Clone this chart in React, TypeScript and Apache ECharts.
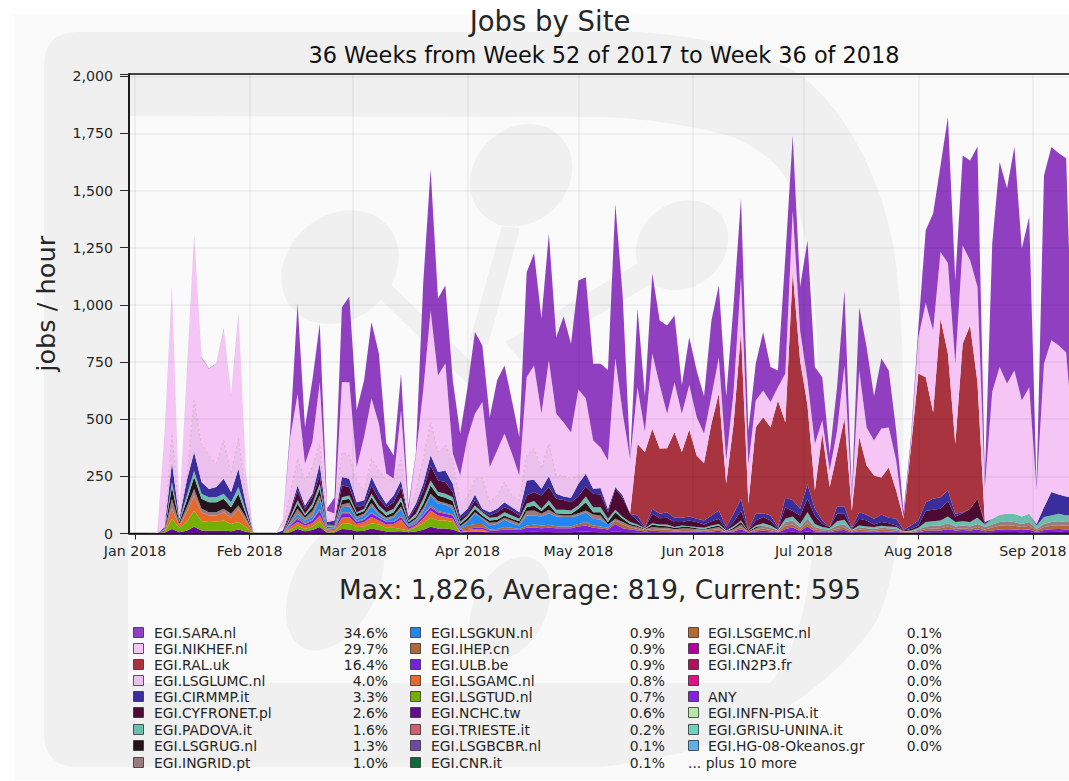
import React, { useEffect, useRef } from "react";
import * as echarts from "echarts";

// Every array below holds, per 2-day sample from 1 Jan 2018, the height (jobs/hour)
// of the upper edge of that site's band.
const saraEdge = [
  0,0,2,5,430,1075,100,690,1304,771,
  722,744,897,604,963,270,10,0,0,0,
  50,450,1006,465,670,918,110,158,990,1037,
  540,670,925,787,395,341,700,120,350,1094,
  1593,1028,1085,670,437,640,881,822,509,670,
  735,582,422,1143,1226,940,1311,859,949,830,
  1107,1121,743,743,715,1441,1034,334,984,600,
  1137,932,910,954,650,859,713,600,932,1085,
  600,1000,1466,450,744,881,728,713,1209,1741,
  1079,1282,728,684,348,640,1063,170,990,815,
  600,765,713,450,95,420,900,1326,1400,1610,
  1822,1107,1654,1632,1693,240,1269,1625,1510,1691,
  1247,1384,203,1566,1691,1663,1641,595];
const nikhefEdge = [
  0,0,2,5,425,1070,98,685,1300,768,
  720,742,895,600,960,268,10,0,0,0,
  48,420,610,305,400,660,100,87,662,662,
  290,422,590,480,262,240,538,100,340,625,
  976,691,744,350,254,420,524,575,290,363,
  437,350,254,683,735,525,757,524,486,442,
  630,590,407,376,319,766,525,325,640,445,
  787,650,524,660,524,650,510,437,600,770,
  320,620,1121,300,582,626,575,640,700,1413,
  888,670,392,495,276,450,735,150,713,464,
  407,459,464,319,70,400,858,1008,888,1231,
  1183,743,1260,1195,1079,200,620,728,656,713,
  582,640,190,743,845,822,792,400];
const ralEdge = [
  0,0,0,0,0,0,0,0,0,0,
  0,0,0,0,0,0,0,0,0,0,
  0,0,0,0,0,0,0,0,0,0,
  0,0,0,0,0,0,0,0,0,0,
  0,0,0,0,0,0,0,0,0,0,
  0,0,0,0,0,0,0,0,0,0,
  0,0,0,0,0,0,0,90,392,356,
  458,372,373,443,356,455,341,308,480,612,
  218,480,881,131,465,509,465,582,487,1143,
  757,560,188,437,203,350,503,100,422,298,
  254,245,289,188,66,376,700,684,530,940,
  787,392,830,910,660,20,0,0,0,0,
  0,0,0,0,0,0,0,0];
const lumcEdge = [
  0,0,0,0,28,437,79,247,582,393,
  342,305,407,261,415,174,6,0,0,0,
  28,174,327,232,291,393,57,72,356,342,
  232,188,327,276,239,232,320,86,188,327,
  488,356,385,320,137,159,239,244,137,166,
  225,166,145,342,371,283,393,254,254,237,
  254,264,196,199,108,0,0,0,0,0,
  0,0,0,0,0,0,0,0,0,0,
  0,0,0,0,0,0,0,0,0,0,
  0,0,0,0,0,0,0,0,0,0,
  0,0,0,0,0,0,0,0,0,0,
  0,0,0,0,0,0,0,0,0,0,
  0,0,0,0,0,0,0,0];
const cirmmpEdge = [
  0,0,0,0,26,312,64,232,356,225,
  195,203,239,181,283,130,6,0,0,0,
  13,101,210,123,174,305,50,57,247,239,
  137,145,247,181,130,166,232,74,130,218,
  342,269,276,218,79,108,171,108,93,108,
  137,115,93,232,235,196,250,174,162,156,
  218,261,196,199,108,203,166,86,79,28,
  108,86,93,69,69,74,64,57,79,101,
  28,86,152,16,86,89,79,28,156,147,
  108,215,108,57,28,118,118,25,93,82,
  64,83,69,64,16,35,57,137,152,159,
  188,86,93,108,152,50,64,82,86,86,
  74,86,42,115,181,171,162,160];
const cyfronetEdge = [
  0,0,0,0,0,0,0,0,0,0,
  0,0,0,0,0,0,0,0,0,0,
  0,93,188,108,159,254,39,42,210,203,
  115,123,210,152,115,137,203,64,115,188,
  298,232,225,181,64,89,147,98,79,93,
  115,101,79,166,181,166,203,152,147,137,
  162,206,174,171,93,196,156,86,57,23,
  86,67,69,50,50,57,50,39,54,64,
  18,50,101,13,57,72,57,20,115,98,
  79,152,79,42,28,86,86,20,64,57,
  39,50,45,35,13,20,35,98,104,108,
  142,74,89,108,152,42,0,0,0,0,
  0,0,0,0,0,0,0,0];
const padovaEdge = [
  0,0,0,0,20,225,57,166,273,174,
  159,159,174,137,203,100,3,0,0,0,
  0,72,145,86,130,218,35,35,159,166,
  93,108,174,123,93,108,159,57,86,152,
  232,181,174,159,50,79,123,93,69,72,
  93,79,64,130,142,108,145,104,104,101,
  123,162,115,115,64,104,72,50,39,23,
  45,39,39,28,35,32,28,25,35,42,
  13,32,57,10,35,45,35,16,64,74,
  42,93,42,28,23,54,60,16,35,31,
  28,34,31,28,10,13,25,50,54,57,
  74,50,54,50,69,39,64,82,86,86,
  74,86,35,72,79,86,79,80];
const rugEdge = [
  0,0,0,0,14,203,50,144,247,152,
  137,137,152,115,174,86,2,0,0,0,
  0,64,130,79,115,196,28,31,145,152,
  86,98,159,108,79,93,142,50,72,130,
  210,166,156,142,42,69,108,79,57,60,
  79,64,54,115,123,98,127,89,86,86,
  108,137,93,93,50,93,64,42,34,20,
  38,34,32,25,28,28,23,20,28,35,
  10,25,50,9,28,0,0,0,0,0,
  0,0,0,0,0,0,0,0,0,0,
  0,0,0,0,0,0,0,0,0,0,
  0,0,0,0,0,0,0,0,0,0,
  0,0,0,0,0,0,0,0];
const ingridEdge = [
  0,0,0,0,10,152,42,115,195,108,
  93,93,108,86,123,71,2,0,0,0,
  0,54,108,69,98,166,25,28,127,135,
  74,86,133,93,69,79,118,42,64,112,
  174,142,133,123,32,57,93,69,47,50,
  69,57,45,98,101,86,104,83,79,79,
  89,101,83,79,39,64,50,35,28,18,
  28,25,25,19,22,22,19,18,22,28,
  9,19,39,7,22,35,26,13,50,57,
  28,64,28,20,18,35,39,13,28,23,
  20,25,23,20,9,9,16,31,34,35,
  45,31,35,31,42,28,39,50,54,50,
  42,50,20,42,50,54,50,50];
const kunEdge = [
  0,0,0,0,0,0,0,0,0,0,
  0,0,0,0,0,0,0,0,0,0,
  0,45,86,57,72,152,20,25,115,118,
  64,79,118,83,60,69,108,39,57,98,
  166,130,127,108,28,50,86,64,35,42,
  60,45,35,79,79,74,89,74,72,72,
  79,93,64,60,39,0,0,0,0,0,
  0,0,0,0,0,0,0,0,0,0,
  0,0,0,0,0,0,0,0,0,0,
  0,0,0,0,0,0,0,0,0,0,
  0,0,0,0,0,0,0,0,0,0,
  0,0,0,0,0,0,0,0,0,0,
  0,0,0,0,0,0,0,0];
const ihepEdge = [
  0,0,0,0,0,0,0,0,0,0,
  0,0,0,0,0,0,0,0,0,0,
  0,38,72,47,60,108,18,22,93,93,
  54,64,93,72,53,54,79,32,47,83,
  123,98,91,83,20,35,42,42,18,20,
  28,25,20,35,39,35,38,32,31,31,
  42,50,35,31,25,57,39,28,20,16,
  20,18,18,13,15,15,13,12,15,19,
  6,13,28,4,15,22,15,7,34,39,
  18,45,18,13,10,22,25,9,18,15,
  13,16,15,13,6,6,10,20,22,23,
  31,20,23,20,28,18,26,34,36,34,
  28,34,13,28,34,36,34,34];
const ulbEdge = [
  0,0,0,0,0,0,0,0,0,0,
  0,0,0,0,0,0,0,0,0,0,
  0,35,64,42,57,101,16,20,89,89,
  50,60,89,69,50,50,72,28,42,79,
  115,93,86,79,16,20,25,26,13,13,
  18,18,15,25,26,23,25,23,23,23,
  31,35,25,22,18,42,23,18,13,9,
  13,10,10,9,9,9,9,7,9,12,
  4,9,19,3,9,13,9,4,20,26,
  10,31,10,7,6,13,15,4,10,9,
  7,10,9,7,3,3,6,12,13,13,
  19,13,15,13,18,10,13,18,19,18,
  15,18,7,15,19,20,18,18];
const amcEdge = [
  0,0,0,0,8,108,35,93,166,93,
  79,79,93,69,108,57,2,0,0,0,
  0,28,50,35,45,79,13,16,69,72,
  42,50,72,57,39,42,60,20,35,64,
  101,79,72,64,10,16,20,20,0,0,
  0,0,0,0,0,0,0,0,0,0,
  0,0,0,0,0,0,0,0,0,0,
  0,0,0,0,0,0,0,0,0,0,
  0,0,0,0,0,0,0,0,0,0,
  0,0,0,0,0,0,0,0,0,0,
  0,0,0,0,0,0,0,0,0,0,
  0,0,0,0,0,0,0,0,0,0,
  0,0,0,0,0,0,0,0];
const tudEdge = [
  0,0,0,0,5,64,25,50,100,54,
  50,52,57,42,50,28,1,0,0,0,
  0,16,35,20,31,54,6,10,42,45,
  28,31,45,39,25,25,20,13,28,45,
  69,57,57,50,6,10,12,10,0,0,
  0,0,0,0,0,0,0,0,0,0,
  0,0,0,0,0,0,0,0,0,0,
  0,0,0,0,0,0,0,0,0,0,
  0,0,0,0,0,0,0,0,0,0,
  0,0,0,0,0,0,0,0,0,0,
  0,0,0,0,0,0,0,0,0,0,
  0,0,0,0,0,0,0,0,0,0,
  0,0,0,0,0,0,0,0];
const nchcEdge = [
  0,0,0,0,3,20,6,12,30,13,
  12,12,13,10,18,8,1,0,0,0,
  0,6,20,10,15,28,3,4,20,18,
  10,12,22,15,9,9,10,5,9,16,
  30,22,22,18,5,7,8,7,5,5,
  6,6,5,7,8,7,7,6,6,6,
  8,9,7,6,5,10,7,5,4,3,
  5,4,4,3,4,4,3,3,4,5,
  2,4,6,1,4,5,4,2,6,8,
  4,9,4,3,2,5,6,2,4,4,
  3,4,4,3,1,1,3,4,5,5,
  6,5,5,5,6,4,6,7,7,7,
  6,7,3,6,7,8,7,7];

const sampleStart = Date.UTC(2018, 0, 1);
const sampleDays = 2;
const monthNames = ["Jan","Feb","Mar","Apr","May","Jun","Jul","Aug","Sep","Oct","Nov","Dec"];
const yTicks = [0, 250, 500, 750, 1000, 1250, 1500, 1750, 2000];

const legendRows = [
  ["EGI.SARA.nl", "34.6%", "#903fc0"], ["EGI.NIKHEF.nl", "29.7%", "#f5c6f5"], ["EGI.RAL.uk", "16.4%", "#a8343f"],
  ["EGI.LSGLUMC.nl", "4.0%", "#ecc0ec"], ["EGI.CIRMMP.it", "3.3%", "#3a2d9c"], ["EGI.CYFRONET.pl", "2.6%", "#4d0a33"],
  ["EGI.PADOVA.it", "1.6%", "#6dbdae"], ["EGI.LSGRUG.nl", "1.3%", "#241318"], ["EGI.INGRID.pt", "1.0%", "#9b7a80"],
  ["EGI.LSGKUN.nl", "0.9%", "#2288f0"], ["EGI.IHEP.cn", "0.9%", "#b0683a"], ["EGI.ULB.be", "0.9%", "#7a1fe0"],
  ["EGI.LSGAMC.nl", "0.8%", "#e86a2a"], ["EGI.LSGTUD.nl", "0.7%", "#74b000"], ["EGI.NCHC.tw", "0.6%", "#640a96"],
  ["EGI.TRIESTE.it", "0.2%", "#d06070"], ["EGI.LSGBCBR.nl", "0.1%", "#6e48a8"], ["EGI.CNR.it", "0.1%", "#0a6a3a"],
  ["EGI.LSGEMC.nl", "0.1%", "#b86a2e"], ["EGI.CNAF.it", "0.0%", "#b000a0"], ["EGI.IN2P3.fr", "0.0%", "#b01060"],
  ["", "0.0%", "#e0108a"], ["ANY", "0.0%", "#8a1ee0"], ["EGI.INFN-PISA.it", "0.0%", "#b4e8a4"],
  ["EGI.GRISU-UNINA.it", "0.0%", "#70d0c0"], ["EGI.HG-08-Okeanos.gr", "0.0%", "#60b0e8"],
];
const legendMore = "... plus 10 more";

// bottom of the stack first
const stackOrder: [string, number[], string][] = [
  ["EGI.NCHC.tw", nchcEdge, "#640a96"],
  ["EGI.LSGTUD.nl", tudEdge, "#74b000"],
  ["EGI.LSGAMC.nl", amcEdge, "#e86a2a"],
  ["EGI.ULB.be", ulbEdge, "#7a1fe0"],
  ["EGI.IHEP.cn", ihepEdge, "#b0683a"],
  ["EGI.LSGKUN.nl", kunEdge, "#2288f0"],
  ["EGI.INGRID.pt", ingridEdge, "#9b7a80"],
  ["EGI.LSGRUG.nl", rugEdge, "#241318"],
  ["EGI.PADOVA.it", padovaEdge, "#6dbdae"],
  ["EGI.CYFRONET.pl", cyfronetEdge, "#4d0a33"],
  ["EGI.CIRMMP.it", cirmmpEdge, "#3a2d9c"],
  ["EGI.LSGLUMC.nl", lumcEdge, "#ecc0ec"],
  ["EGI.RAL.uk", ralEdge, "#a8343f"],
  ["EGI.NIKHEF.nl", nikhefEdge, "#f5c6f5"],
  ["EGI.SARA.nl", saraEdge, "#903fc0"],
];

const FONT = "DejaVu Sans";
const TXT = "#262626";

const outerLogo = "M78 32 L640 32 C720 38 770 55 803 77 C850 115 880 180 893 243 C900 290 903 340 903 390 C905 470 900 540 890 580 C886 597 882 610 877 620 C840 680 760 735 680 753 C640 762 610 767 590 767 L78 767 Q44 767 44 733 L44 66 Q44 32 78 32 Z";
const innerLogo = "M128 116 L600 117 C640 118 693 125 733 137 C755 147 770 158 780 170 C790 183 794 192 797 203 C805 235 810 260 813 287 C816 320 818 350 818 390 C818 450 815 520 811 563 C805 620 790 660 770 683 L128 683 Z";
const stickA = "M376 295 L388 282 L480 370 L470 386 Z";
const stickB = "M502 226 L520 228 L488 345 L470 340 Z";
const stickC = "M640 262 L655 282 L520 360 L505 342 Z";
echarts.graphic.registerShape("logoOuter", echarts.graphic.extendPath(outerLogo, {}) as any);
echarts.graphic.registerShape("logoInner", echarts.graphic.extendPath(innerLogo, {}) as any);
echarts.graphic.registerShape("logoStickA", echarts.graphic.extendPath(stickA, {}) as any);
echarts.graphic.registerShape("logoStickB", echarts.graphic.extendPath(stickB, {}) as any);
echarts.graphic.registerShape("logoStickC", echarts.graphic.extendPath(stickC, {}) as any);

export default function App() {
  const ref = useRef<HTMLDivElement>(null);
  useEffect(() => {
    document.body.style.margin = "0";
    document.body.style.background = "#fff";
    const chart = echarts.init(ref.current!, undefined, { renderer: "svg" });

    const below: number[] = saraEdge.map(() => 0);
    const series = stackOrder.map(([name, edge, color]) => {
      const isLumc = name === "EGI.LSGLUMC.nl";
      const data = edge.map((top, i) => {
        const band = Math.max(0, top - below[i]);
        below[i] = Math.max(below[i], top);
        const x = sampleStart + i * sampleDays * 86400000;
        return [x, isLumc && top === 0 ? null : band];
      });
      return {
        name,
        type: "line",
        stack: "sites",
        data,
        symbol: "none",
        showSymbol: false,
        connectNulls: false,
        z: 2,
        itemStyle: { color },
        lineStyle: isLumc
          ? { width: 0.8, type: [3, 2], color: "#d9a0b4", opacity: 0.8 }
          : { width: 0, opacity: 0 },
        areaStyle: { color, opacity: 1 },
        emphasis: { disabled: true },
      };
    });

    const gfx: any[] = [
      { type: "rect", z: -10, silent: true, shape: { x: 14, y: 14, width: 1060, height: 766 }, style: { fill: "#fafafa" } },
      { type: "logoOuter", z: -9, silent: true, style: { fill: "#f0f0f0" } },
      { type: "logoInner", z: -8, silent: true, style: { fill: "#fafafa" } },
      { type: "ellipse", z: -7, silent: true, shape: { cx: 340, cy: 267, rx: 63, ry: 52 }, rotation: 0.7, originX: 340, originY: 267, style: { fill: "#f0f0f0" } },
      { type: "ellipse", z: -7, silent: true, shape: { cx: 521, cy: 175, rx: 55, ry: 47 }, rotation: 0.8, originX: 521, originY: 175, style: { fill: "#f0f0f0" } },
      { type: "ellipse", z: -7, silent: true, shape: { cx: 682, cy: 245, rx: 49, ry: 42 }, rotation: 0.7, originX: 682, originY: 245, style: { fill: "#f0f0f0" } },
      { type: "ellipse", z: -7, silent: true, shape: { cx: 335, cy: 585, rx: 70, ry: 42 }, rotation: 1.1, originX: 335, originY: 585, style: { fill: "#f0f0f0" } },
      { type: "ellipse", z: -7, silent: true, shape: { cx: 510, cy: 608, rx: 55, ry: 36 }, rotation: 1.1, originX: 510, originY: 608, style: { fill: "#f0f0f0" } },
      { type: "logoStickA", z: -7, silent: true, style: { fill: "#f0f0f0" } },
      { type: "logoStickB", z: -7, silent: true, style: { fill: "#f0f0f0" } },
      { type: "logoStickC", z: -7, silent: true, style: { fill: "#f0f0f0" } },
      { type: "text", z: 5, silent: true, x: 600, y: 590, style: { text: "Max: 1,826, Average: 819, Current: 595", font: `26.3px "${FONT}"`, fill: TXT, textAlign: "center", textVerticalAlign: "middle" } },
    ];
    const colX = [
      { sw: 133, tx: 154, pct: 388 },
      { sw: 410, tx: 431, pct: 665 },
      { sw: 688, tx: 708, pct: 942 },
    ];
    const rowY = [633, 649, 665, 681, 697, 713, 730, 746, 763];
    legendRows.forEach(([name, pct, color], k) => {
      const c = colX[Math.floor(k / 9)];
      const y = rowY[k % 9];
      gfx.push({ type: "rect", z: 5, silent: true, shape: { x: c.sw + 0.5, y: y - 5.5, width: 10, height: 10 }, style: { fill: color, stroke: "rgba(40,40,40,0.75)", lineWidth: 1 } });
      if (name) gfx.push({ type: "text", z: 5, silent: true, x: c.tx, y, style: { text: name, font: `13.9px "${FONT}"`, fill: TXT, textAlign: "left", textVerticalAlign: "middle" } });
      gfx.push({ type: "text", z: 5, silent: true, x: c.pct, y, style: { text: pct, font: `13.9px "${FONT}"`, fill: TXT, textAlign: "right", textVerticalAlign: "middle" } });
    });
    gfx.push({ type: "text", z: 5, silent: true, x: 688, y: rowY[8], style: { text: legendMore, font: `13.9px "${FONT}"`, fill: TXT, textAlign: "left", textVerticalAlign: "middle" } });

    chart.setOption({
      animation: false,
      useUTC: true,
      backgroundColor: "#fff",
      title: [
        { text: "Jobs by Site", left: 545, top: 2, textAlign: "center", textStyle: { fontFamily: FONT, fontSize: 27.5, fontWeight: "normal", color: TXT } },
        { text: "36 Weeks from Week 52 of 2017 to Week 36 of 2018", left: 599, top: 39, textAlign: "center", textStyle: { fontFamily: FONT, fontSize: 22.4, fontWeight: "normal", color: "#111" } },
      ],
      grid: { left: 129, top: 74, width: 949, height: 459.5, show: true, outerBoundsMode: "none", borderColor: "#111", borderWidth: 1.5, backgroundColor: "transparent" },
      xAxis: {
        type: "time",
        min: Date.UTC(2017, 11, 30, 9),
        max: Date.UTC(2018, 8, 13, 5),
        splitNumber: 9,
        minInterval: 28 * 86400000,
        axisLine: { show: true, lineStyle: { color: "#111", width: 1.5 } },
        axisTick: { show: true, length: 6, lineStyle: { color: TXT, width: 1 } },
        axisLabel: {
          color: TXT, fontFamily: FONT, fontSize: 14.2, margin: 10, hideOverlap: false,
          formatter: (v: number) => {
            const d = new Date(v);
            return d.getUTCDate() === 1 ? `${monthNames[d.getUTCMonth()]} ${d.getUTCFullYear()}` : "";
          },
        },
        splitLine: { show: true, lineStyle: { color: "rgba(0,0,0,0.06)", width: 1.5 } },
        z: 3,
      },
      yAxis: {
        type: "value",
        min: 0,
        max: 2010,
        interval: 250,
        name: "jobs / hour",
        nameLocation: "middle",
        nameGap: 70,
        nameTextStyle: { fontFamily: FONT, fontSize: 25.6, color: TXT },
        axisLine: { show: true, lineStyle: { color: "#111", width: 1.5 } },
        axisTick: { show: true, length: 9, lineStyle: { color: TXT, width: 1 } },
        axisLabel: {
          color: TXT, fontFamily: FONT, fontSize: 14.2, margin: 16,
          formatter: (v: number) => (yTicks.includes(v) ? v.toLocaleString("en-US") : ""),
        },
        splitLine: { show: true, lineStyle: { color: "rgba(0,0,0,0.06)", width: 1.5 } },
        z: 3,
      },
      graphic: gfx,
      series,
    });
    return () => chart.dispose();
  }, []);
  return <div ref={ref} style={{ position: "fixed", left: 0, top: 0, width: 1069, height: 781 }} />;
}
